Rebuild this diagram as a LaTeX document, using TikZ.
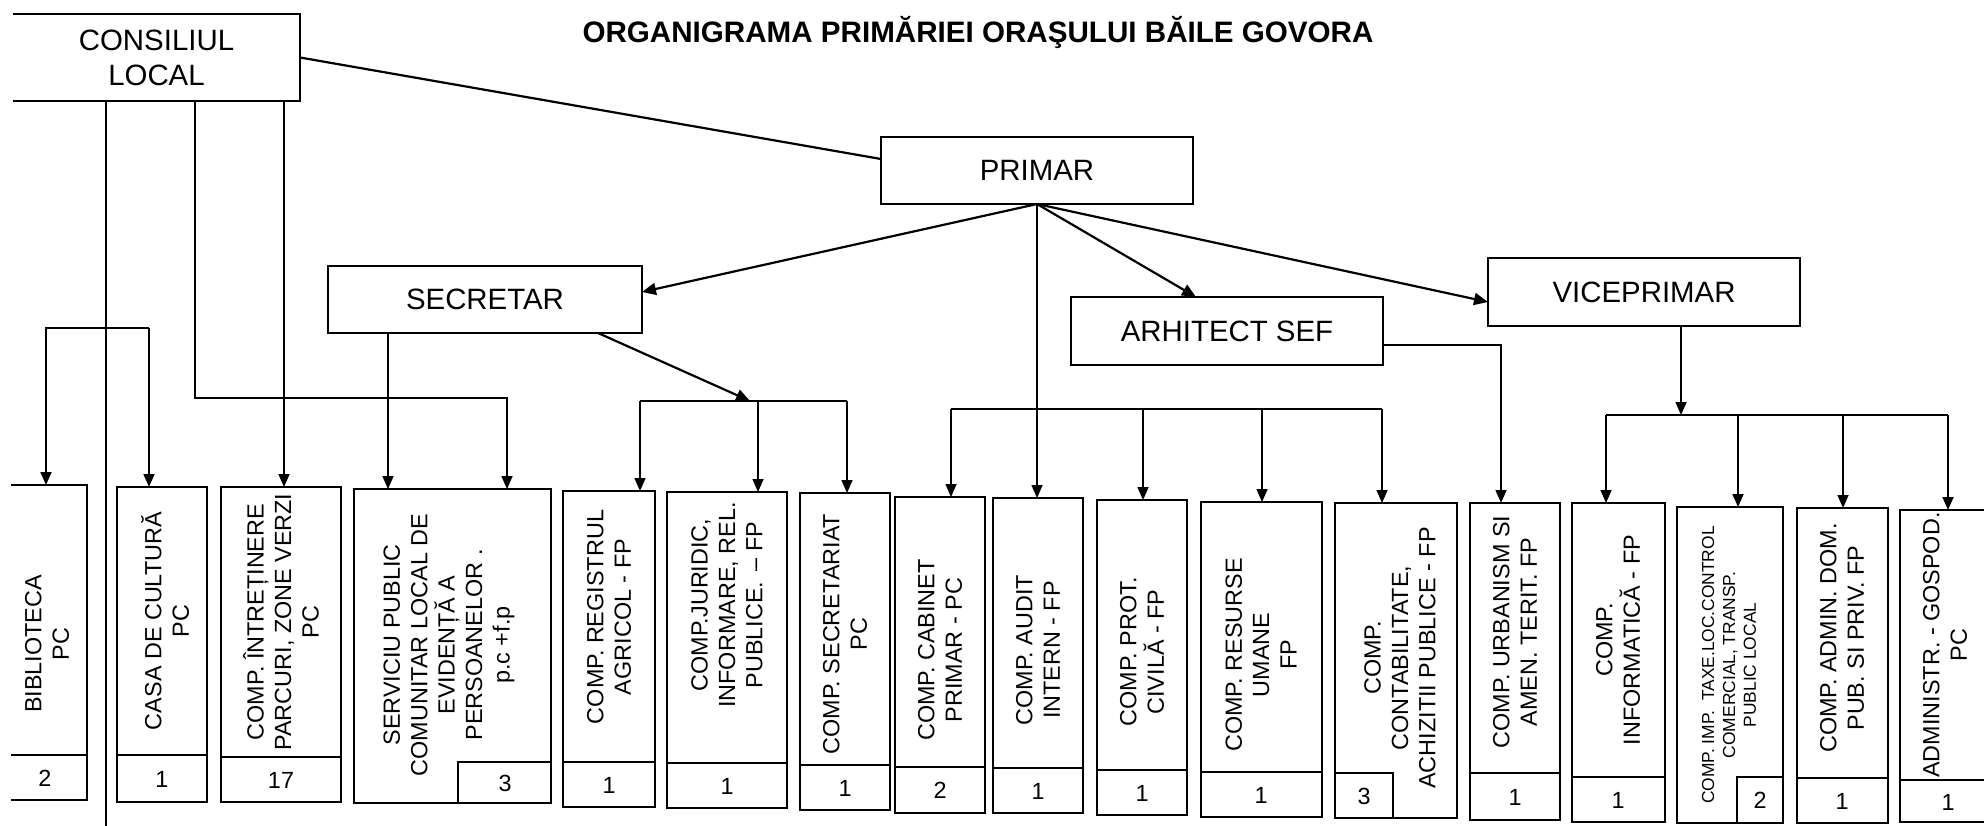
\documentclass[tikz,border=0pt]{standalone}
\usepackage{fontspec}
\setmainfont{Liberation Sans}
\usetikzlibrary{arrows.meta}
\tikzset{
  corners/.style n args={4}{minimum width={(#3-#1)*0.5pt}, minimum height={(#4-#2)*0.5pt}, at={({(#1+#3)/2},{(#2+#4)/2})}},
  boxln/.style={line width=1.2pt},
  topbox/.style={draw, line width=1.2pt, inner sep=0pt, outer sep=0pt, align=center, font=\fontsize{14.7}{17.6}\selectfont},
  ubx/.style={draw, line width=1.2pt, inner sep=0pt, outer sep=0pt},
  utext/.style={rotate=90, align=center, inner sep=0pt, font=\fontsize{11.7}{13.7}\selectfont},
  smalltext/.style={rotate=90, align=center, inner sep=0pt, font=\fontsize{8.7}{10.4}\selectfont},
  num/.style={inner sep=0pt, font=\fontsize{11.7}{13.7}\selectfont},
  conn/.style={line width=0.8pt},
  arr/.style={line width=0.8pt, -{Triangle[length=6.5pt,width=5.5pt]}},
  darr/.style={line width=1.1pt, -{Triangle[length=7pt,width=6pt]}},
}
\newcommand\ubox[6]{%
  \node[ubx, corners={#2}{#4}{#3}{#6}] (#1) {};
  \draw[boxln] (#2,#5) -- (#3,#5);
}
\begin{document}
\begin{tikzpicture}[x=0.5pt,y=-0.5pt]
\useasboundingbox (0,0) rectangle (1984,825);
\fill[white] (0,0) rectangle (1984,825);
\clip (0,0) rectangle (1984,825);

% title
\node[anchor=base, inner sep=0pt, font=\bfseries\fontsize{14.8}{17}\selectfont] (title) at (978,42) {ORGANIGRAMA PRIMĂRIEI ORAŞULUI BĂILE GOVORA};

% top boxes
\node[topbox, draw=none, corners={13}{14}{300}{101}] (cons) {CONSILIUL\\LOCAL};
\draw[boxln] (cons.north west) -- (cons.north east) -- (cons.south east) -- (cons.south west);
\node[topbox, corners={881}{137}{1193}{204}] (primar) {PRIMAR};
\node[topbox, corners={328}{266}{642}{333}] (secr) {SECRETAR};
\node[topbox, corners={1071}{297}{1383}{365}] (arh) {ARHITECT SEF};
\node[topbox, corners={1488}{258}{1800}{326}] (vice) {VICEPRIMAR};

% bottom boxes
\node[ubx, draw=none, corners={11}{485}{87}{800}] (bib) {};
\draw[boxln] (bib.north west) -- (bib.north east) -- (bib.south east) -- (bib.south west);
\draw[boxln] (11,755) -- (87,755);
\ubox{casa}{117}{207}{487}{755}{802}
\ubox{intr}{221}{341}{487}{757}{802}
\node[ubx, corners={354}{489}{551}{803}] (serv) {};
\draw[boxln] (458,803) -- (458,762) -- (551,762);
\ubox{reg}{563}{655}{491}{762}{807}
\ubox{jur}{667}{787}{492}{763}{808}
\ubox{secrt}{800}{890}{493}{765}{810}
\ubox{cab}{895}{985}{497}{767}{813}
\ubox{aud}{993}{1083}{498}{768}{813}
\ubox{prot}{1097}{1187}{500}{770}{815}
\ubox{res}{1201}{1322}{502}{772}{817}
\node[ubx, corners={1335}{503}{1457}{818}] (cont) {};
\draw[boxln] (1393,818) -- (1393,773) -- (1335,773);
\ubox{urb}{1470}{1560}{503}{773}{820}
\ubox{inf}{1572}{1665}{503}{777}{822}
\node[ubx, corners={1677}{507}{1783}{823}] (taxe) {};
\draw[boxln] (1737,823) -- (1737,777) -- (1783,777);
\ubox{adm}{1797}{1888}{508}{778}{823}
\ubox{gosp}{1900}{1995}{510}{780}{822}

% texts in bottom boxes
\node[utext] (bibt) at (47,644) {BIBLIOTECA\\PC};
\node[utext] (casat) at (165,621) {CASA DE CULTURĂ\\PC};
\node[utext] (intrt) at (281,622) {COMP. ÎNTREȚINERE\\PARCURI, ZONE VERZI\\PC};
\node[utext] (servt) at (449,645) {SERVICIU PUBLIC\\COMUNITAR LOCAL DE\\EVIDENȚĂ A\\PERSOANELOR .\\p.c +f.p};
\node[utext] (regt) at (609,617) {COMP. REGISTRUL\\AGRICOL - FP};
\node[utext] (jurt) at (727,605) {COMP.JURIDIC,\\INFORMARE, REL.\\PUBLICE. \,– FP};
\node[utext] (secrtt) at (845,634) {COMP. SECRETARIAT\\PC};
\node[utext] (cabt) at (940,650) {COMP. CABINET\\PRIMAR - PC};
\node[utext] (audt) at (1038,650) {COMP. AUDIT\\INTERN - FP};
\node[utext] (prott) at (1142,652) {COMP. PROT.\\CIVILĂ - FP};
\node[utext] (rest) at (1261,655) {COMP. RESURSE\\UMANE\\FP};
\node[utext] (contt) at (1400,658) {COMP.\\CONTABILITATE,\\ACHIZITII PUBLICE - FP};
\node[utext] (urbt) at (1515,632) {COMP. URBANISM SI\\AMEN. TERIT. FP};
\node[utext] (inft) at (1618,640) {COMP.\\INFORMATICĂ - FP};
\node[smalltext] (taxet) at (1729,665) {COMP. IMP.\ \ TAXE.LOC.CONTROL\\COMERCIAL, TRANSP.\\PUBLIC LOCAL};
\node[utext] (admt) at (1842,638) {COMP. ADMIN. DOM.\\PUB. SI PRIV. FP};
\node[utext] (gospt) at (1945,645) {ADMINISTR. - GOSPOD.\\PC};

% numbers
\node[num] (bibn) at (45,778) {2};
\node[num] (casan) at (162,779) {1};
\node[num] (intrn) at (281,780) {17};
\node[num] (servn) at (505,783) {3};
\node[num] (regn) at (609,785) {1};
\node[num] (jurn) at (727,786) {1};
\node[num] (secrtn) at (845,788) {1};
\node[num] (cabn) at (940,790) {2};
\node[num] (audn) at (1038,791) {1};
\node[num] (protn) at (1142,793) {1};
\node[num] (resn) at (1261,795) {1};
\node[num] (contn) at (1364,796) {3};
\node[num] (urbn) at (1515,797) {1};
\node[num] (infn) at (1618,800) {1};
\node[num] (taxen) at (1760,800) {2};
\node[num] (admn) at (1842,801) {1};
\node[num] (gospn) at (1948,802) {1};

% connectors: consiliul
\draw[darr, -] (cons.east) -- (primar.west |- 0,159);
\draw[conn] (106,0 |- cons.south) -- (106,830);
\draw[arr] (195,0 |- cons.south) -- (195,398) -- (507,398) -- (507,0 |- serv.north);
\draw[arr] (284,0 |- cons.south) -- (284,0 |- intr.north);
\coordinate (bbL) at (46,328);
\coordinate (bbR) at (149,328);
\draw[arr] (bbR) -- (bbL) -- (bbL |- bib.north);
\draw[arr] (bbR) -- (bbR |- casa.north);

% primar
\draw[darr] (primar.south) -- (secr.east |- 0,292);
\draw[darr] (primar.south) -- (1196,0 |- arh.north);
\draw[darr] (primar.south) -- (vice.west |- 0,302);
\draw[arr] (primar.south) -- (primar.south |- aud.north);
\coordinate (pbL) at (951,409);
\coordinate (pbR) at (1382,409);
\draw[conn] (pbL) -- (pbR);
\draw[arr] (pbL) -- (pbL |- cab.north);
\draw[arr] (1143,409) -- (1143,0 |- prot.north);
\draw[arr] (1262,409) -- (1262,0 |- res.north);
\draw[arr] (pbR) -- (pbR |- cont.north);

% arhitect sef
\draw[arr] (arh.east |- 0,345) -- (1501,345) -- (1501,0 |- urb.north);

% viceprimar
\coordinate (vbL) at (1606,415);
\coordinate (vbR) at (1948,415);
\draw[arr] (1681,0 |- vice.south) -- (1681,415);
\draw[conn] (vbL) -- (vbR);
\draw[arr] (vbL) -- (vbL |- inf.north);
\draw[arr] (1738,415) -- (1738,0 |- taxe.north);
\draw[arr] (1843,415) -- (1843,0 |- adm.north);
\draw[arr] (vbR) -- (vbR |- gosp.north);

% secretar
\draw[arr] (388,0 |- secr.south) -- (388,0 |- serv.north);
\coordinate (sbL) at (640,401);
\coordinate (sbR) at (847,401);
\draw[darr] (598,0 |- secr.south) -- (750,401);
\draw[conn] (sbL) -- (sbR);
\draw[arr] (sbL) -- (sbL |- reg.north);
\draw[arr] (758,401) -- (758,0 |- jur.north);
\draw[arr] (sbR) -- (sbR |- secrt.north);
\end{tikzpicture}
\end{document}
